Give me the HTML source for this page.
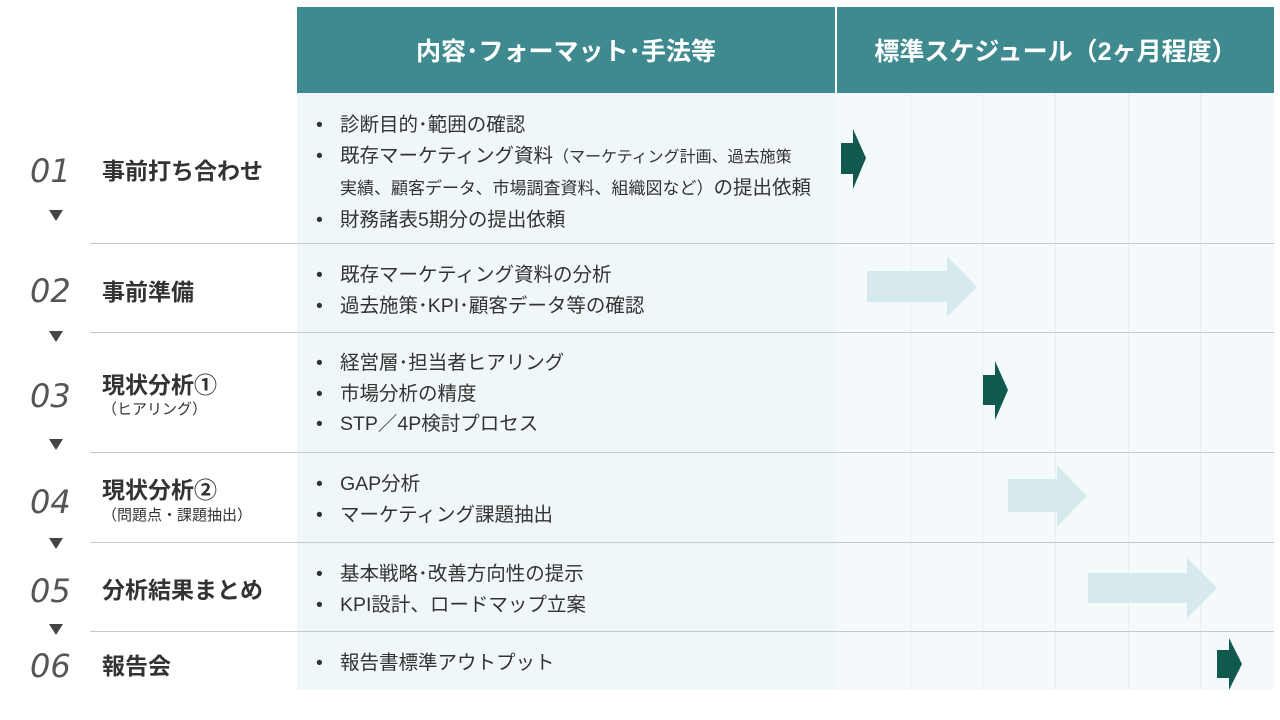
<!DOCTYPE html>
<html><head><meta charset="utf-8"><style>
body{margin:0;width:1280px;height:720px;background:#fff;position:relative;overflow:hidden;font-family:"Liberation Sans","Noto Sans CJK JP",sans-serif;color:#333}
.a{position:absolute}
.hd{background:#3f8a8f;color:#fff;font-size:25px;font-weight:bold;display:flex;align-items:center;justify-content:center}
.num{font-size:32px;font-style:italic;color:#555;left:30px;font-family:"DejaVu Sans","Liberation Sans",sans-serif;font-weight:300}
.tri{left:49px;width:0;height:0;border-left:7px solid transparent;border-right:7px solid transparent;border-top:11px solid #444}
.tt{left:102px;font-size:23px;font-weight:bold;color:#333}
.sub{left:102px;font-size:15px;color:#333}
.line{left:90px;width:1184px;height:1px;background:#c8c8c8}
.b{left:316px;font-size:19.5px;line-height:30.5px;color:#333}
.b i{font-style:normal;display:inline-block;width:24px}
.vl{width:1px;background:#e6eef0;top:93px;height:597px}
</style></head><body>
<div class="a" style="left:297px;top:93px;width:977px;height:597px;background:#f0f7f9"></div>
<div class="a" style="left:836px;top:93px;width:438px;height:597px;background:#f4fafb"></div>
<div class="a vl" style="left:910px"></div><div class="a vl" style="left:982px"></div><div class="a vl" style="left:1055px"></div><div class="a vl" style="left:1128px"></div><div class="a vl" style="left:1200px"></div>
<div class="a hd" style="left:297px;top:7px;width:538px;height:86px">内容･フォーマット･手法等</div>
<div class="a hd" style="left:837px;top:7px;width:437px;height:86px">標準スケジュール（2ヶ月程度）</div>

<div class="a line" style="top:243px"></div><div class="a line" style="top:332px"></div><div class="a line" style="top:452px"></div><div class="a line" style="top:542px"></div><div class="a line" style="top:631px"></div>

<div class="a num" style="top:152px">01</div><div class="a tri" style="top:210px"></div><div class="a tt" style="top:152px">事前打ち合わせ</div>
<div class="a num" style="top:272px">02</div><div class="a tri" style="top:331px"></div><div class="a tt" style="top:273px">事前準備</div>
<div class="a num" style="top:377px">03</div><div class="a tri" style="top:439px"></div><div class="a tt" style="top:366px">現状分析①</div><div class="a sub" style="top:398px">（ヒアリング）</div>
<div class="a num" style="top:483px">04</div><div class="a tri" style="top:538px"></div><div class="a tt" style="top:471px">現状分析②</div><div class="a sub" style="top:504px">（問題点・課題抽出）</div>
<div class="a num" style="top:572px">05</div><div class="a tri" style="top:624px"></div><div class="a tt" style="top:571px">分析結果まとめ</div>
<div class="a num" style="top:647px">06</div><div class="a tt" style="top:647px">報告会</div>

<div class="a b" style="top:110px"><i>•</i>診断目的･範囲の確認<br><i>•</i>既存マーケティング資料<span style="font-size:16px">（マーケティング計画、過去施策</span><br><i></i><span style="font-size:17px">実績、顧客データ、市場調査資料、組織図など）</span>の提出依頼<br><i>•</i>財務諸表5期分の提出依頼</div>
<div class="a b" style="top:260px"><i>•</i>既存マーケティング資料の分析<br><i>•</i>過去施策･KPI･顧客データ等の確認</div>
<div class="a b" style="top:348px"><i>•</i>経営層･担当者ヒアリング<br><i>•</i>市場分析の精度<br><i>•</i>STP／4P検討プロセス</div>
<div class="a b" style="top:469px"><i>•</i>GAP分析<br><i>•</i>マーケティング課題抽出</div>
<div class="a b" style="top:559px"><i>•</i>基本戦略･改善方向性の提示<br><i>•</i>KPI設計、ロードマップ立案</div>
<div class="a b" style="top:648px"><i>•</i>報告書標準アウトプット</div>

<svg class="a" style="left:0;top:0" width="1280" height="720">
<g fill="#11594f">
<polygon points="841,143 853,143 853,129 866,158 853,189 853,174 841,174"/>
<polygon points="983,375 995,375 995,361 1008,390 995,420 995,405 983,405"/>
<polygon points="1217,650 1229,650 1229,638 1242,664 1229,690 1229,678 1217,678"/>
</g>
<g fill="#d6eaee">
<polygon points="867,271 947,271 947,256 977,287 947,317 947,302 867,302"/>
<polygon points="1008,479 1057,479 1057,465 1087,496 1057,527 1057,512 1008,512"/>
<polygon points="1088,573 1187,573 1187,558 1217,588 1187,618 1187,603 1088,603"/>
</g>
</svg>
</body></html>
